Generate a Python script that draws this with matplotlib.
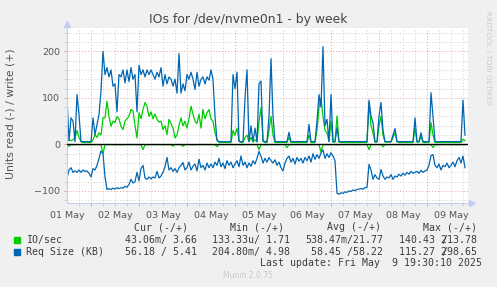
import numpy as np
import matplotlib
matplotlib.use("Agg")
import matplotlib.pyplot as plt
from matplotlib.patches import Rectangle
from matplotlib.ticker import FixedLocator, MultipleLocator
from matplotlib.transforms import offset_copy

# hourly samples, first one at the left edge of the graph (01 May)
# IO/sec write (+)
ios_write = (
    [8, 10, 8, 10, 14, 30, 15, 6, 4, 4, 4, 4, 4, 10, 21, 15, 25, 20, 57, 57, 93, 60, 39, 50]
    + [47, 60, 55, 39, 32, 50, 55, 61, 75, 72, 40, 14, 68, 55, 75, 90, 82, 60, 70, 55, 65, 54, 48, 50]
    + [32, 40, 21, 54, 45, 35, 14, 20, 40, 57, 40, 50, 35, 55, 82, 65, 50, 45, 65, 35, 75, 55, 68, 75]
    + [55, 50, 25, 11, 4, 4, 4, 4, 4, 4, 4, 30, 20, 35, 8, 4, 4, 15, 20, 6, 15, 5, 10, 5]
    + [50, 79, 10, 4, 4, 30, 60, 20, 4, 4, 4, 4, 4, 4, 4, 15, 4, 4, 4, 4, 4, 4, 4, 4]
    + [4, 20, 4, 4, 4, 30, 80, 100, 60, 30, 25, 6, 50, 5, 5, 61, 5, 4, 4, 4, 4, 4, 4, 4]
    + [4, 4, 4, 4, 4, 4, 4, 90, 40, 25, 5, 5, 40, 60, 20, 5, 5, 5, 5, 15, 25, 6, 4, 4]
    + [4, 4, 4, 4, 4, 4, 35, 5, 5, 18, 4, 4, 4, 4, 47, 20, 4, 4, 4, 4, 4, 4, 4, 4]
    + [4, 4, 4, 4, 4, 4, 11, 8]
)
# IO/sec read (-)
ios_read = (
    [0.5, 4, 0.5, 0.5, 0.5, 0.5, 0.5, 0.5, 0.5, 0.5, 0.5, 0.5, 0.5, 0.5, 0.5, 0.5, 0.5, 0.5, 20, 0.5, 0.5, 0.5, 0.5, 0.5]
    + [0.5] * 14 + [11] + [0.5] * 9
    + [0.5] * 5 + [4] + [0.5] * 4 + [4] + [0.5] * 13
    + [0.5] * 3 + [5] + [0.5] * 20
    + [11] + [0.5] * 13 + [7] + [0.5] * 9
    + [0.5] * 7 + [16] + [0.5] * 16
    + [0.5] * 7 + [11] + [0.5] * 6 + [5] + [0.5] * 9
    + [0.5] * 15 + [7] + [0.5] * 8
    + [0.5] * 8
)
# Req Size (KB) write (+)
req_write = (
    [100, 8, 57, 50, 6, 107, 64, 6, 6, 6, 6, 6, 6, 57, 21, 43, 64, 115, 200, 150, 165, 145, 160, 125]
    + [130, 70, 150, 145, 160, 132, 160, 135, 165, 140, 150, 70, 170, 150, 160, 145, 160, 150, 160, 150, 140, 155, 145, 165]
    + [125, 150, 130, 145, 140, 125, 140, 110, 195, 110, 130, 115, 150, 140, 155, 140, 118, 155, 125, 140, 145, 130, 145, 138]
    + [160, 140, 60, 8, 6, 6, 6, 6, 6, 6, 6, 150, 120, 155, 6, 6, 6, 100, 160, 6, 40, 6, 35, 6]
    + [130, 136, 6, 6, 6, 60, 184, 60, 6, 6, 6, 6, 6, 6, 6, 26, 6, 6, 6, 6, 6, 6, 6, 6]
    + [6, 43, 6, 6, 6, 50, 107, 80, 210, 40, 54, 6, 107, 6, 6, 36, 6, 6, 6, 6, 6, 6, 6, 6]
    + [6, 6, 6, 6, 6, 6, 6, 95, 60, 47, 6, 6, 60, 90, 30, 6, 6, 6, 6, 20, 34, 6, 6, 6]
    + [6, 6, 6, 6, 6, 6, 57, 6, 6, 25, 6, 6, 6, 6, 111, 60, 6, 6, 6, 6, 6, 6, 6, 6]
    + [6, 6, 6, 6, 6, 6, 95, 20]
)
# Req Size (KB) read (-)
req_read = (
    [72, 55, 50, 60, 57, 60, 55, 60, 55, 58, 57, 62, 70, 52, 55, 45, 30, 14, 20, 70, 97, 95, 97, 94]
    + [96, 93, 95, 93, 94, 90, 92, 86, 75, 83, 80, 60, 78, 52, 45, 72, 75, 70, 74, 70, 72, 58, 72, 68]
    + [60, 48, 28, 55, 50, 58, 52, 60, 50, 45, 39, 55, 50, 38, 55, 47, 42, 57, 32, 50, 45, 55, 40, 50]
    + [42, 50, 38, 45, 30, 48, 40, 52, 35, 45, 38, 50, 42, 35, 48, 25, 45, 38, 50, 40, 47, 35, 42, 30]
    + [15, 25, 40, 30, 38, 28, 35, 40, 33, 45, 38, 50, 57, 40, 30, 25, 38, 30, 42, 28, 36, 30, 40, 28]
    + [35, 25, 38, 20, 32, 22, 30, 18, 12, 30, 20, 28, 18, 25, 35, 105, 107, 104, 105, 102, 103, 100, 101, 98]
    + [99, 97, 96, 95, 96, 93, 92, 43, 55, 75, 65, 72, 75, 54, 68, 75, 70, 72, 65, 75, 68, 70, 64, 68]
    + [62, 66, 60, 64, 58, 62, 60, 58, 62, 56, 60, 57, 55, 45, 24, 22, 45, 50, 42, 55, 45, 48, 40, 50]
    + [45, 38, 48, 35, 28, 40, 25, 50]
)

day_labels = ["01 May", "02 May", "03 May", "04 May", "05 May",
              "06 May", "07 May", "08 May", "09 May"]

legend_rows = [
    ("IO/sec", "#00CC00", "43.06m/ 3.66", "133.33u/ 1.71", "538.47m/21.77", ("140.43", "213.78")),
    ("Req Size (KB)", "#0066B3", "56.18 / 5.41", "204.80m/ 4.98", "58.45 /58.22", ("115.27", "298.65")),
]

W, H = 497, 287
BG = "#F0F0F0"
AXIS = "#C4CCF2"
GRID_MIN = "#CFCFCF"
GRID_MAJ = "#EBA0A0"
TXT = "#555555"
LEG = "#3C3C3C"


def px(x, y):
    return x / W, 1 - y / H


def main():
    fig = plt.figure(figsize=(W / 100, H / 100), dpi=100, facecolor=BG)
    left, right, top, bottom = 67, 468, 27.7, 202.5
    ax = fig.add_axes([left / W, 1 - bottom / H, (right - left) / W, (bottom - top) / H])
    ax.set_facecolor("white")

    t = np.arange(len(req_write)) / 24.0
    ax.plot(t, -np.array(ios_read), color="#00CC00", lw=0.9)
    ax.plot(t, ios_write, color="#00CC00", lw=0.9)
    ax.plot(t, -np.array(req_read), color="#0066B3", lw=0.9)
    ax.plot(t, req_write, color="#0066B3", lw=0.9)
    ax.axhline(0, color="black", lw=1.0, zorder=5)

    xmax = (right - left) / 48.0
    ax.set_xlim(0, xmax)
    ax.set_ylim(-124.8, 250.7)

    # grid: red every day (at mid-day), grey every 6 hours
    q = np.arange(1, int(xmax * 4) + 1) * 0.25
    red = q[np.isclose(q % 1, 0.5)]
    grey = q[~np.isclose(q % 1, 0.5)]
    ax.xaxis.set_major_locator(FixedLocator(red))
    ax.xaxis.set_minor_locator(FixedLocator(grey))
    ax.xaxis.remove_overlapping_locs = False
    ax.yaxis.set_major_locator(MultipleLocator(100))
    ax.yaxis.set_minor_locator(MultipleLocator(20))
    dots = (0, (1, 2))
    ax.grid(which="major", color=GRID_MAJ, lw=0.7, ls=dots)
    ax.grid(which="minor", color=GRID_MIN, lw=0.7, ls=dots)
    ax.set_axisbelow(True)
    ax.tick_params(axis="x", which="both", labelbottom=False, length=2, width=0.7)
    ax.tick_params(axis="x", which="major", color=GRID_MAJ)
    ax.tick_params(axis="x", which="minor", color=GRID_MIN)
    ax.tick_params(axis="y", which="both", length=2, width=0.7, labelsize=6.8,
                   labelcolor=TXT, pad=3)
    ax.tick_params(axis="y", which="major", color=GRID_MAJ)
    ax.tick_params(axis="y", which="minor", color=GRID_MIN)

    sec = ax.secondary_xaxis("bottom")
    sec.set_xticks(range(len(day_labels)), labels=day_labels)
    sec.tick_params(length=0, pad=6, labelsize=6.8, labelcolor=TXT)
    sec.spines["bottom"].set_visible(False)

    for s in ("top", "right"):
        ax.spines[s].set_visible(False)
    for s in ("left", "bottom"):
        ax.spines[s].set_color(AXIS)
        ax.spines[s].set_linewidth(0.8)
    tr = offset_copy(ax.transAxes, fig=fig, x=0, y=3.5, units="dots")
    ax.plot([0], [1], marker="^", ms=5, color=AXIS, transform=tr, clip_on=False)
    tr = offset_copy(ax.transAxes, fig=fig, x=3.5, y=0, units="dots")
    ax.plot([1], [0], marker=">", ms=5, color=AXIS, transform=tr, clip_on=False)

    fig.text(*px(248, 20), "IOs for /dev/nvme0n1 - by week", ha="center", va="center",
             fontsize=8.9, color="#444444")
    fig.text(*px(11, 114), "Units read (-) / write (+)", rotation=90, ha="center",
             va="center", fontsize=7.8, color=TXT)
    fig.text(*px(488, 58), "RRDTOOL / TOBI OETIKER", rotation=270, ha="center",
             va="center", fontsize=5.3, color="#CCCCCC")

    mono = dict(family="DejaVu Sans Mono", fontsize=7.1, color=LEG, va="center")
    cw = 7.1 * 100 / 72 * 0.602
    for x, head in zip([134.3, 230, 326.7, 422.7],
                       ["Cur (-/+)", "Min (-/+)", "Avg (-/+)", "Max (-/+)"]):
        fig.text(*px(x, 227), head, ha="left", **mono)
    for i, (name, col, cur, mn, avg, mx) in enumerate(legend_rows):
        y = 240 + i * 11.7
        fig.patches.append(Rectangle(px(14, y + 3), 6 / W, 6 / H, color=col,
                                     transform=fig.transFigure, figure=fig))
        fig.text(*px(26, y), name, ha="left", **mono)
        for x, val in zip([196.7, 290, 383.3], [cur, mn, avg]):
            fig.text(*px(x, y), val, ha="right", **mono)
        fig.text(*px(476.7, y), mx[0] + " " + mx[1], ha="right", **mono)
        fig.text(*px(476.7 - 6 * cw, y), "/", ha="left", **mono)
    fig.text(*px(482.5, 263.3), "Last update: Fri May  9 19:30:10 2025", ha="right", **mono)
    fig.text(*px(248, 276), "Munin 2.0.75", ha="center", va="center", fontsize=5.5,
             color="#C8C8C8")

    fig.savefig("out.png", dpi=100, facecolor=BG)


if __name__ == "__main__":
    main()
